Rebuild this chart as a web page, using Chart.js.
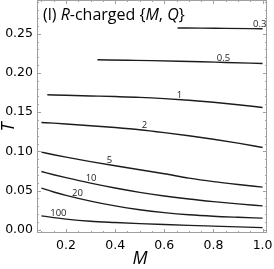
<!DOCTYPE html>
<html><head><meta charset="utf-8">
<script src="https://cdn.jsdelivr.net/npm/chart.js@4"></script>
<style>html,body{margin:0;padding:0;background:#fff;overflow:hidden}</style>
</head><body>
<canvas id="c" width="274" height="269"></canvas>
<script>
// contour levels
const levels = ['0.3', '0.5', '1', '2', '5', '10', '20', '100'];
// contour line coordinates (M, T)
const m_03 = [0.654, 0.75, 0.85, 1.0];
const t_03 = [0.2573, 0.2571, 0.2568, 0.2564];
const m_05 = [0.328, 0.45, 0.55, 0.66, 0.75, 0.85, 1.0];
const t_05 = [0.2168, 0.2162, 0.2157, 0.2150, 0.2143, 0.2134, 0.2121];
const m_1 = [0.124, 0.2, 0.3, 0.4, 0.5, 0.6, 0.7, 0.8, 0.9, 1.0];
const t_1 = [0.1722, 0.1715, 0.1707, 0.1699, 0.1689, 0.1673, 0.1652, 0.1626, 0.1595, 0.1560];
const m_full = [0.1, 0.15, 0.2, 0.3, 0.4, 0.5, 0.6, 0.7, 0.8, 0.9, 1.0];
const t_2 = [0.1369, 0.1360, 0.1350, 0.1328, 0.1304, 0.1276, 0.1240, 0.1200, 0.1155, 0.1105, 0.1050];
const t_5 = [0.0991, 0.0958, 0.0927, 0.0870, 0.0817, 0.0766, 0.0716, 0.0660, 0.0615, 0.0578, 0.0545];
const t_10 = [0.0744, 0.0703, 0.0665, 0.0595, 0.0533, 0.0478, 0.0432, 0.0393, 0.0360, 0.0331, 0.0306];
const t_20 = [0.0532, 0.0483, 0.0440, 0.0367, 0.0305, 0.0257, 0.0220, 0.0192, 0.0173, 0.0160, 0.0149];
const t_100 = [0.0179, 0.0156, 0.0137, 0.0110, 0.0094, 0.0080, 0.0068, 0.0057, 0.0047, 0.0038, 0.0029];
// tick labels
const xTickValues = [0.2, 0.4, 0.6, 0.8, 1.0];
const yTickValues = [0.00, 0.05, 0.10, 0.15, 0.20, 0.25];

const lines = [
  [m_03, t_03], [m_05, t_05], [m_1, t_1], [m_full, t_2],
  [m_full, t_5], [m_full, t_10], [m_full, t_20], [m_full, t_100]
];
const labelAtM = [0.988, 0.841, 0.662, 0.519, 0.377, 0.302, 0.247, 0.169];

const datasets = lines.map((ln, k) => ({
  label: levels[k],
  data: ln[0].map((x, i) => ({x: x, y: ln[1][i]})),
  showLine: true,
  pointRadius: 0,
  borderColor: '#1c1c1c',
  borderWidth: 1.4,
  cubicInterpolationMode: 'monotone',
  fill: false
}));

function interp(ms, ts, m) {
  for (let i = 0; i < ms.length - 1; i++) {
    if (m >= ms[i] && m <= ms[i + 1]) {
      const f = (m - ms[i]) / (ms[i + 1] - ms[i]);
      return ts[i] + f * (ts[i + 1] - ts[i]);
    }
  }
  return ts[ts.length - 1];
}

const tickFont = {family: 'DejaVu Sans', size: 12.5};

const decor = {
  id: 'decor',
  afterDatasetsDraw(chart) {
    const ctx = chart.ctx, a = chart.chartArea;
    const xs = chart.scales.x, ys = chart.scales.y;
    ctx.save();
    // contour labels
    ctx.fillStyle = '#1c1c1c';
    ctx.font = '9.5px "Open Sans"';
    ctx.textAlign = 'center';
    ctx.textBaseline = 'middle';
    lines.forEach((ln, k) => {
      const m = labelAtM[k];
      const t = interp(ln[0], ln[1], m);
      ctx.fillText(levels[k], xs.getPixelForValue(m), ys.getPixelForValue(t) - 4.5);
    });
    // frame
    ctx.strokeStyle = '#a0a0a0';
    ctx.lineWidth = 1;
    ctx.strokeRect(a.left + 0.5, a.top + 0.5, a.right - a.left - 1, a.bottom - a.top - 1);
    ctx.beginPath();
    for (let i = 2; i <= 20; i++) {
      const v = i * 0.05;
      const px = Math.round(xs.getPixelForValue(v)) + 0.5;
      const major = i % 4 === 0;
      const L = major ? 4 : 2;
      ctx.moveTo(px, a.bottom); ctx.lineTo(px, a.bottom - L);
      ctx.moveTo(px, a.top); ctx.lineTo(px, a.top + L);
    }
    for (let i = 0; i <= 29; i++) {
      const v = i * 0.01;
      const py = Math.round(ys.getPixelForValue(v)) + 0.5;
      const major = i % 5 === 0;
      const L = major ? 4 : 2;
      ctx.moveTo(a.left, py); ctx.lineTo(a.left + L, py);
      ctx.moveTo(a.right, py); ctx.lineTo(a.right - L, py);
    }
    ctx.stroke();
    // panel title
    ctx.fillStyle = '#000';
    ctx.textAlign = 'left';
    ctx.textBaseline = 'alphabetic';
    const segs = [['(l) ', false], ['R', true], ['-charged {', false], ['M', true], [', ', false], ['Q', true], ['}', false]];
    let x = 43;
    segs.forEach(s => {
      ctx.font = (s[1] ? 'italic ' : '') + '16px "Open Sans"';
      ctx.fillText(s[0], x, 20);
      x += ctx.measureText(s[0]).width;
    });
    // axis titles
    ctx.font = 'italic 18px "Open Sans"';
    ctx.textAlign = 'center';
    ctx.fillText('M', 140, 264);
    ctx.save();
    ctx.translate(14, 127);
    ctx.rotate(-Math.PI / 2);
    ctx.fillText('T', 0, 0);
    ctx.restore();
    ctx.restore();
  }
};

new Chart(document.getElementById('c'), {
  type: 'scatter',
  data: {datasets: datasets},
  options: {
    responsive: false,
    animation: false,
    layout: {padding: {left: 0, right: 7, top: 0, bottom: 0}},
    plugins: {legend: {display: false}, tooltip: {enabled: false}},
    scales: {
      x: {
        type: 'linear', min: 0.082, max: 1.018,
        afterBuildTicks: s => { s.ticks = xTickValues.map(v => ({value: v})); },
        afterFit: s => { s.height = 36; s.paddingLeft = 0; s.paddingRight = 0; },
        ticks: {callback: v => Number(v).toFixed(1), font: tickFont, color: '#000', padding: 5, maxRotation: 0, autoSkip: false},
        grid: {display: false, drawTicks: false},
        border: {display: false}
      },
      y: {
        type: 'linear', min: -0.004, max: 0.293,
        afterBuildTicks: s => { s.ticks = yTickValues.map(v => ({value: v})); },
        afterFit: s => { s.width = 37; s.paddingTop = 0; s.paddingBottom = 0; },
        ticks: {callback: v => Number(v).toFixed(2), font: tickFont, color: '#000', padding: 4, autoSkip: false},
        grid: {display: false, drawTicks: false},
        border: {display: false}
      }
    }
  },
  plugins: [decor]
});
</script>
</body></html>
